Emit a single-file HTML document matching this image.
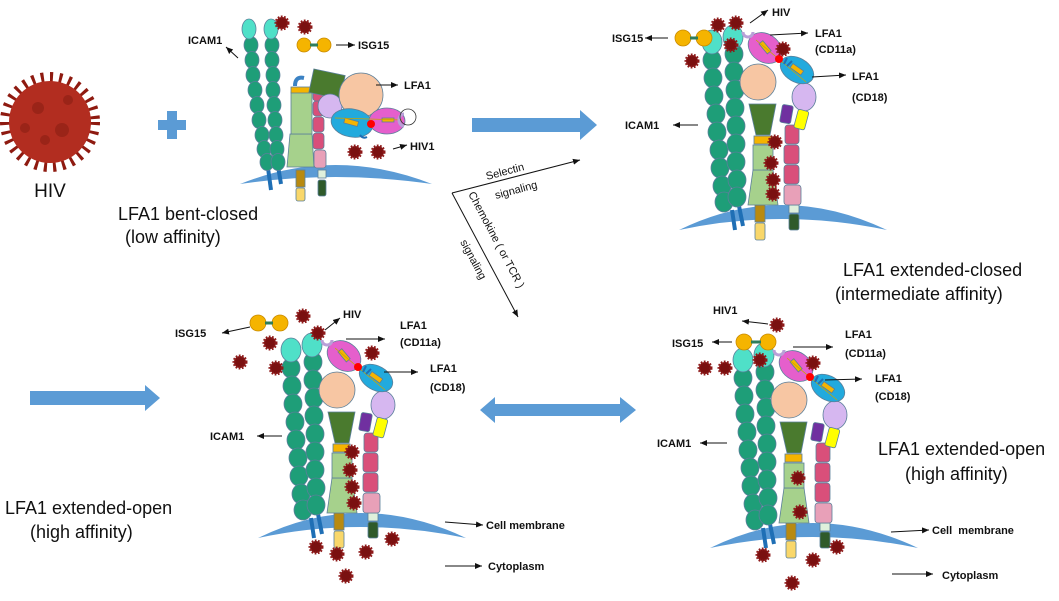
<!DOCTYPE html>
<html><head><meta charset="utf-8"><style>
html,body{margin:0;padding:0;background:#fff}
svg{display:block}
.l{font-family:"Liberation Sans",sans-serif;font-weight:bold;font-size:11px;fill:#111}
.t{font-family:"Liberation Sans",sans-serif;font-size:18px;fill:#111}
</style></head><body>
<svg width="1059" height="601" viewBox="0 0 1059 601" xmlns="http://www.w3.org/2000/svg">
<defs>
<marker id="a" markerWidth="8" markerHeight="8" refX="7" refY="4" orient="auto" markerUnits="userSpaceOnUse"><path d="M0,1 L7,4 L0,7 Z" fill="#111"/></marker>
<symbol id="h" overflow="visible"><circle r="6" fill="#7a1010" stroke="#8e1a1a" stroke-width="3" stroke-dasharray="1.6 1.4"/></symbol>
<g id="ext" stroke="#5a7f9a" stroke-width="0.8">
 <path d="M258,538 Q360,488 466,538 Q360,516 258,538 Z" fill="#5b9bd5" stroke="none"/>
 <line x1="311" y1="518" x2="314" y2="538" stroke="#1f6fb5" stroke-width="4"/>
 <line x1="318" y1="514" x2="322" y2="534" stroke="#1f6fb5" stroke-width="4"/>
 <g fill="#1e9e78">
  <ellipse cx="291" cy="368" rx="9" ry="10"/><ellipse cx="292" cy="386" rx="9" ry="10"/><ellipse cx="293" cy="404" rx="9" ry="10"/><ellipse cx="295" cy="422" rx="9" ry="10"/><ellipse cx="296" cy="440" rx="9" ry="10"/><ellipse cx="298" cy="458" rx="9" ry="10"/><ellipse cx="299" cy="476" rx="9" ry="10"/><ellipse cx="301" cy="494" rx="9" ry="10"/><ellipse cx="303" cy="510" rx="9" ry="10"/>
  <ellipse cx="313" cy="362" rx="9" ry="10"/><ellipse cx="313" cy="380" rx="9" ry="10"/><ellipse cx="314" cy="398" rx="9" ry="10"/><ellipse cx="314" cy="416" rx="9" ry="10"/><ellipse cx="315" cy="434" rx="9" ry="10"/><ellipse cx="315" cy="452" rx="9" ry="10"/><ellipse cx="315" cy="470" rx="9" ry="10"/><ellipse cx="316" cy="488" rx="9" ry="10"/><ellipse cx="316" cy="505" rx="9" ry="10"/>
 </g>
 <ellipse cx="291" cy="350" rx="10" ry="12" fill="#4fe0c8"/>
 <ellipse cx="312" cy="345" rx="10" ry="12" fill="#4fe0c8"/>
 <rect x="334" y="513" width="10" height="17" fill="#b88a10"/>
 <rect x="334" y="531" width="10" height="17" rx="2" fill="#f9d76a"/>
 <path d="M332,478 L352,478 L357,513 L327,513 Z" fill="#a6d18c"/>
 <rect x="332" y="453" width="20" height="25" fill="#a6d18c"/>
 <rect x="333" y="444" width="17" height="8" fill="#f5b400"/>
 <path d="M328,412 L355,412 L349,443 L335,443 Z" fill="#4a7a2e"/>
 <circle cx="337" cy="390" r="18" fill="#f7c6a3"/>
 <rect x="368" y="513" width="10" height="8" fill="#dff0dc"/>
 <rect x="368" y="522" width="10" height="16" rx="2" fill="#2f5a2a"/>
 <rect x="363" y="493" width="17" height="20" rx="3" fill="#e8a0b8"/>
 <rect x="363" y="473" width="15" height="19" rx="3" fill="#d94f7a"/>
 <rect x="363" y="453" width="15" height="19" rx="3" fill="#d94f7a"/>
 <rect x="364" y="433" width="14" height="19" rx="3" fill="#d94f7a"/>
 <ellipse cx="383" cy="405" rx="12" ry="14" fill="#d6b7f0"/>
 <rect x="360" y="413" width="11" height="18" rx="2" fill="#7030a0" transform="rotate(10 365 422)"/>
 <rect x="375" y="418" width="11" height="19" rx="2" fill="#ffff00" transform="rotate(15 380 427)"/>
 <ellipse cx="376" cy="378" rx="18" ry="12" fill="#22aadd" transform="rotate(30 376 378)"/>
 <rect x="369" y="375" width="13" height="5" fill="#f5b400" transform="rotate(35 376 378)"/>
 <ellipse cx="344" cy="356" rx="18" ry="14" fill="#e55fcc" transform="rotate(35 344 356)"/>
 <rect x="337" y="353" width="13" height="5" fill="#f5b400" transform="rotate(50 344 356)"/>
 <line x1="335" y1="348" x2="385" y2="390" stroke="#c9a400" stroke-width="0.8"/>
 <circle cx="358" cy="367" r="4" fill="#f00" stroke="none"/>
 <path d="M322,340 a5,5 0 0 0 10,0" fill="none" stroke="#b9a0d8" stroke-width="3"/>
 <path d="M363,372 l3,-6 M366,374 l5,-5" stroke="#1f6fb5" stroke-width="2"/>
</g>
</defs>

<circle cx="50" cy="122" r="44" fill="none" stroke="#8e1a10" stroke-width="12" stroke-dasharray="3 6"/>
<circle cx="50" cy="122" r="41" fill="#b22d20"/>
<circle cx="38" cy="108" r="6" fill="#9a2418"/><circle cx="62" cy="130" r="7" fill="#9a2418"/><circle cx="45" cy="140" r="5" fill="#9a2418"/><circle cx="68" cy="100" r="5" fill="#9a2418"/><circle cx="25" cy="128" r="5" fill="#9a2418"/>
<text x="50" y="197" text-anchor="middle" class="t" style="font-size:19px">HIV</text>
<rect x="158" y="120" width="28" height="10" fill="#5b9bd5"/>
<rect x="167" y="111" width="10" height="28" fill="#5b9bd5"/>

<g stroke="#5a7f9a" stroke-width="0.8">
 <path d="M240,184 Q335,146 432,184 Q335,170 240,184 Z" fill="#5b9bd5" stroke="none"/>
 <line x1="268" y1="168" x2="271" y2="190" stroke="#1f6fb5" stroke-width="4"/>
 <line x1="278" y1="166" x2="281" y2="184" stroke="#1f6fb5" stroke-width="4"/>
 <g fill="#1e9e78">
  <ellipse cx="251" cy="45" rx="7" ry="8.5"/><ellipse cx="252" cy="60" rx="7" ry="8.5"/><ellipse cx="253" cy="75" rx="7" ry="8.5"/><ellipse cx="255" cy="90" rx="7" ry="8.5"/><ellipse cx="257" cy="105" rx="7" ry="8.5"/><ellipse cx="259" cy="120" rx="7" ry="8.5"/><ellipse cx="262" cy="135" rx="7" ry="8.5"/><ellipse cx="264" cy="149" rx="7" ry="8.5"/><ellipse cx="267" cy="162" rx="7" ry="8.5"/>
  <ellipse cx="272" cy="45" rx="7" ry="8.5"/><ellipse cx="272" cy="60" rx="7" ry="8.5"/><ellipse cx="273" cy="75" rx="7" ry="8.5"/><ellipse cx="273" cy="90" rx="7" ry="8.5"/><ellipse cx="274" cy="105" rx="7" ry="8.5"/><ellipse cx="275" cy="120" rx="7" ry="8.5"/><ellipse cx="276" cy="135" rx="7" ry="8.5"/><ellipse cx="277" cy="149" rx="7" ry="8.5"/><ellipse cx="278" cy="162" rx="7" ry="8.5"/>
 </g>
 <ellipse cx="249" cy="29" rx="7" ry="10" fill="#4fe0c8"/>
 <ellipse cx="271" cy="29" rx="7" ry="10" fill="#4fe0c8"/>
 <rect x="296" y="170" width="9" height="17" fill="#b88a10"/>
 <rect x="296" y="188" width="9" height="13" rx="2" fill="#f9d76a"/>
 <path d="M290,134 L312,134 L314,167 L287,167 Z" fill="#a6d18c"/>
 <rect x="291" y="92" width="21" height="42" fill="#a6d18c"/>
 <rect x="291" y="87" width="19" height="6" fill="#f5b400"/>
 <path d="M295,86 q0,-10 9,-8" fill="none" stroke="#3b82c4" stroke-width="4"/>
 <rect x="318" y="170" width="8" height="8" fill="#dff0dc"/>
 <rect x="318" y="180" width="8" height="16" rx="2" fill="#2f5a2a"/>
 <rect x="314" y="150" width="12" height="18" rx="3" fill="#e8a0b8"/>
 <rect x="313" y="133" width="11" height="16" rx="3" fill="#d94f7a"/>
 <rect x="313" y="117" width="11" height="15" rx="3" fill="#d94f7a"/>
 <rect x="313" y="101" width="11" height="15" rx="3" fill="#d94f7a"/>
 <rect x="313" y="91" width="11" height="10" rx="3" fill="#d94f7a"/>
 <rect x="311" y="72" width="32" height="24" fill="#4a7a2e" transform="rotate(12 327 84)"/>
 <circle cx="330" cy="106" r="12" fill="#d6b7f0"/>
 <circle cx="361" cy="95" r="22" fill="#f7c6a3"/>
 <ellipse cx="352" cy="123" rx="21" ry="14" fill="#22aadd" transform="rotate(10 352 123)"/>
 <rect x="344" y="120" width="14" height="5" fill="#f5b400" transform="rotate(15 352 123)"/>
 <ellipse cx="387" cy="121" rx="18" ry="13" fill="#e55fcc"/>
 <rect x="382" y="118" width="12" height="4" fill="#f5b400"/>
 <line x1="335" y1="118" x2="402" y2="120" stroke="#c9a400" stroke-width="0.8"/>
 <circle cx="371" cy="124" r="4" fill="#f00" stroke="none"/>
 <path d="M404,114 a5,6 0 0 0 0,12" fill="none" stroke="#b9a0d8" stroke-width="3"/>
 <circle cx="408" cy="117" r="8" fill="none" stroke="#333"/>
 <path d="M360,135 q3,4 7,2" fill="none" stroke="#1f6fb5" stroke-width="2"/>
 <circle cx="304" cy="45" r="7" fill="#f5b400" stroke="#c98a00"/>
 <circle cx="324" cy="45" r="7" fill="#f5b400" stroke="#c98a00"/>
 <rect x="310" y="43.5" width="8" height="3" fill="#2e7d5b" stroke="none"/>
</g>
<use href="#h" x="282" y="23"/><use href="#h" x="305" y="27"/><use href="#h" x="355" y="152"/><use href="#h" x="378" y="152"/>
<g stroke="#111" stroke-width="1" marker-end="url(#a)">
 <line x1="336" y1="45" x2="355" y2="45"/>
 <line x1="376" y1="85" x2="398" y2="85"/>
 <line x1="393" y1="149" x2="407" y2="145"/>
 <line x1="238" y1="58" x2="226" y2="47"/>
</g>
<text x="358" y="49" class="l">ISG15</text>
<text x="404" y="89" class="l">LFA1</text>
<text x="410" y="150" class="l">HIV1</text>
<text x="188" y="44" class="l">ICAM1</text>
<text x="118" y="220" class="t">LFA1 bent-closed</text>
<text x="125" y="243" class="t">(low affinity)</text>

<path d="M472,118 L580,118 L580,110 L597,125 L580,140 L580,132 L472,132 Z" fill="#5b9bd5"/>
<path d="M30,391 L145,391 L145,385 L160,398 L145,411 L145,405 L30,405 Z" fill="#5b9bd5"/>
<path d="M480,410 L495,397 L495,404 L620,404 L620,397 L636,410 L620,423 L620,416 L495,416 L495,423 Z" fill="#5b9bd5"/>
<g stroke="#111" stroke-width="1" marker-end="url(#a)" fill="none">
 <line x1="452" y1="193" x2="580" y2="160"/>
 <line x1="452" y1="193" x2="518" y2="317"/>
</g>
<text class="l" style="font-weight:normal;font-size:11px" transform="translate(487,180) rotate(-15)">Selectin</text>
<text class="l" style="font-weight:normal;font-size:11px" transform="translate(496,199) rotate(-15)">signaling</text>
<text class="l" style="font-weight:normal;font-size:11px" transform="translate(468,194) rotate(62)">Chemokine ( or TCR )</text>
<text class="l" style="font-weight:normal;font-size:11px" transform="translate(460,242) rotate(62)">signaling</text>

<use href="#ext"/>
<use href="#ext" transform="translate(421,-308)"/>
<use href="#ext" transform="translate(452,10)"/>

<g stroke="#c98a00" stroke-width="0.8" fill="#f5b400">
 <circle cx="258" cy="323" r="8"/><circle cx="280" cy="323" r="8"/>
 <circle cx="683" cy="38" r="8"/><circle cx="704" cy="38" r="8"/>
 <circle cx="744" cy="342" r="8"/><circle cx="768" cy="342" r="8"/>
</g>
<g fill="#2e7d5b"><rect x="265" y="321.5" width="8" height="3"/><rect x="690" y="36.5" width="8" height="3"/><rect x="751" y="340.5" width="10" height="3"/></g>

<g>
<use href="#h" x="303" y="316"/><use href="#h" x="318" y="333"/><use href="#h" x="270" y="343"/><use href="#h" x="240" y="362"/><use href="#h" x="276" y="368"/><use href="#h" x="372" y="353"/><use href="#h" x="352" y="452"/><use href="#h" x="350" y="470"/><use href="#h" x="352" y="487"/><use href="#h" x="354" y="503"/><use href="#h" x="316" y="547"/><use href="#h" x="337" y="554"/><use href="#h" x="366" y="552"/><use href="#h" x="392" y="539"/><use href="#h" x="346" y="576"/>
<use href="#h" x="718" y="25"/><use href="#h" x="736" y="23"/><use href="#h" x="731" y="45"/><use href="#h" x="783" y="49"/><use href="#h" x="692" y="61"/><use href="#h" x="775" y="142"/><use href="#h" x="771" y="163"/><use href="#h" x="773" y="180"/><use href="#h" x="773" y="194"/>
<use href="#h" x="777" y="325"/><use href="#h" x="760" y="360"/><use href="#h" x="705" y="368"/><use href="#h" x="725" y="368"/><use href="#h" x="813" y="363"/><use href="#h" x="798" y="478"/><use href="#h" x="800" y="512"/><use href="#h" x="763" y="555"/><use href="#h" x="837" y="547"/><use href="#h" x="813" y="560"/><use href="#h" x="792" y="583"/>
</g>

<g stroke="#111" stroke-width="1" marker-end="url(#a)">
 <line x1="750" y1="23" x2="768" y2="10"/>
 <line x1="770" y1="35" x2="808" y2="33"/>
 <line x1="812" y1="77" x2="846" y2="75"/>
 <line x1="668" y1="38" x2="645" y2="38"/>
 <line x1="698" y1="125" x2="673" y2="125"/>
 <line x1="250" y1="327" x2="222" y2="333"/>
 <line x1="325" y1="330" x2="340" y2="318"/>
 <line x1="346" y1="339" x2="385" y2="339"/>
 <line x1="384" y1="372" x2="418" y2="372"/>
 <line x1="282" y1="436" x2="257" y2="436"/>
 <line x1="445" y1="522" x2="483" y2="525"/>
 <line x1="445" y1="566" x2="482" y2="566"/>
 <line x1="768" y1="324" x2="742" y2="321"/>
 <line x1="732" y1="342" x2="712" y2="342"/>
 <line x1="793" y1="347" x2="833" y2="347"/>
 <line x1="825" y1="380" x2="862" y2="379"/>
 <line x1="727" y1="443" x2="700" y2="443"/>
 <line x1="891" y1="532" x2="929" y2="530"/>
 <line x1="892" y1="574" x2="933" y2="574"/>
</g>
<text x="772" y="16" class="l">HIV</text>
<text x="815" y="37" class="l">LFA1</text><text x="815" y="53" class="l">(CD11a)</text>
<text x="852" y="80" class="l">LFA1</text><text x="852" y="101" class="l">(CD18)</text>
<text x="612" y="42" class="l">ISG15</text>
<text x="625" y="129" class="l">ICAM1</text>
<text x="843" y="276" class="t">LFA1 extended-closed</text>
<text x="835" y="300" class="t">(intermediate affinity)</text>

<text x="175" y="337" class="l">ISG15</text>
<text x="343" y="318" class="l">HIV</text>
<text x="400" y="329" class="l">LFA1</text><text x="400" y="346" class="l">(CD11a)</text>
<text x="430" y="372" class="l">LFA1</text><text x="430" y="391" class="l">(CD18)</text>
<text x="210" y="440" class="l">ICAM1</text>
<text x="486" y="529" class="l">Cell membrane</text>
<text x="488" y="570" class="l">Cytoplasm</text>
<text x="5" y="514" class="t">LFA1 extended-open</text>
<text x="30" y="538" class="t">(high affinity)</text>

<text x="713" y="314" class="l">HIV1</text>
<text x="672" y="347" class="l">ISG15</text>
<text x="845" y="338" class="l">LFA1</text><text x="845" y="357" class="l">(CD11a)</text>
<text x="875" y="382" class="l">LFA1</text><text x="875" y="400" class="l">(CD18)</text>
<text x="657" y="447" class="l">ICAM1</text>
<text x="932" y="534" class="l">Cell&#160;&#160;membrane</text>
<text x="942" y="579" class="l">Cytoplasm</text>
<text x="878" y="455" class="t">LFA1 extended-open</text>
<text x="905" y="480" class="t">(high affinity)</text>
</svg>
</body></html>
